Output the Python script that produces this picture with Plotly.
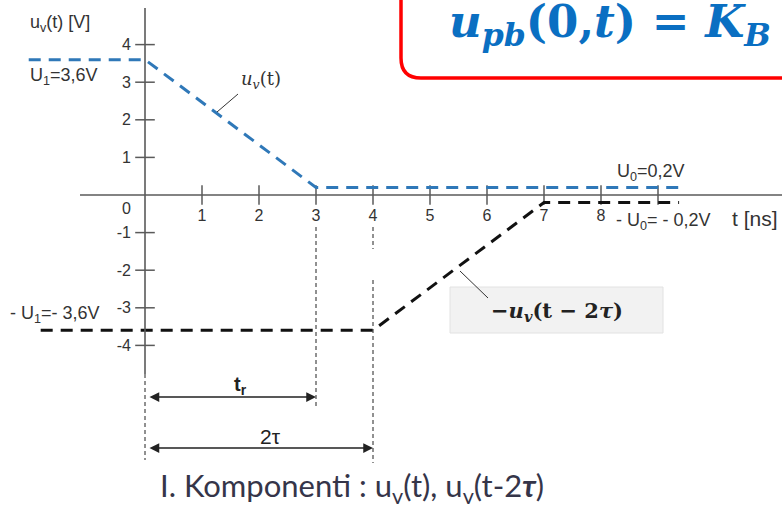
import plotly.graph_objects as go

# --- data -------------------------------------------------------------
# incident pulse u_v(t)
t_uv = [-2.04, 0, 3, 9.4]
v_uv = [3.6, 3.6, 0.2, 0.2]
# reflected, inverted and delayed pulse -u_v(t - 2*tau)
t_ref = [-1.83, 4, 7, 9.37]
v_ref = [-3.6, -3.6, -0.2, -0.2]

x_ticks = [1, 2, 3, 4, 5, 6, 7, 8, 9]
x_tick_text = ["1", "2", "3", "4", "5", "6", "7", "8", ""]
y_ticks = [-4, -3, -2, -1, 1, 2, 3, 4]
y_tick_text = ["-4", "-3", "-2", "-1", "1", "2", "3", "4"]

t_rise = 3.0      # t_r
t_delay = 4.0     # 2*tau

# --- canvas / scale ---------------------------------------------------
W, H = 782, 508
PX_T = 57.0       # pixels per ns
PX_V = 37.6       # pixels per volt
X0, Y0 = 145, 195  # origin on the canvas
x_range = [-X0 / PX_T, (W - X0) / PX_T]
y_range = [-(H - Y0) / PX_V, Y0 / PX_V]


def tx(px):
    return (px - X0) / PX_T


def vy(py):
    return (Y0 - py) / PX_V


AX = "#5a5a5a"
TXT = "#333333"
BLUE = "#2f78b8"
SANS = "Liberation Sans, Arial, sans-serif"
SERIF = "DejaVu Serif, serif"

fig = go.Figure()

# axis lines
fig.add_shape(type="line", x0=tx(80), x1=tx(790), y0=0, y1=0,
              line=dict(color=AX, width=1.6))
fig.add_shape(type="line", x0=0, x1=0, y0=vy(8), y1=vy(374),
              line=dict(color=AX, width=1.6))

# helper dashed verticals
vdash = dict(color="#222222", width=1, dash="4px,3px")
fig.add_shape(type="line", x0=0, x1=0, y0=vy(374), y1=vy(460), line=vdash)
fig.add_shape(type="line", x0=t_rise, x1=t_rise, y0=vy(227), y1=vy(408), line=vdash)
fig.add_shape(type="line", x0=t_delay, x1=t_delay, y0=vy(227), y1=vy(249), line=vdash)
fig.add_shape(type="line", x0=t_delay, x1=t_delay, y0=vy(280), y1=vy(463), line=vdash)

# tick marks crossing the axes
fig.add_trace(go.Scatter(x=x_ticks, y=[0] * len(x_ticks), mode="markers",
                         marker=dict(symbol="line-ns", size=14,
                                     line=dict(color=AX, width=1.5)),
                         hoverinfo="skip", showlegend=False))
fig.add_trace(go.Scatter(x=[0] * len(y_ticks), y=y_ticks, mode="markers",
                         marker=dict(symbol="line-ew", size=14,
                                     line=dict(color=AX, width=1.5)),
                         hoverinfo="skip", showlegend=False))

# the two waveforms
fig.add_trace(go.Scatter(x=t_uv, y=v_uv, mode="lines",
                         line=dict(color=BLUE, width=3, dash="12px,8px"),
                         showlegend=False))
fig.add_trace(go.Scatter(x=t_ref, y=v_ref, mode="lines",
                         line=dict(color="#111111", width=3, dash="12px,8px"),
                         showlegend=False))

# leader lines to the curve labels
lead = dict(color="#333333", width=1)
fig.add_shape(type="line", x0=tx(217), y0=vy(112), x1=tx(238), y1=vy(94), line=lead)
fig.add_shape(type="line", x0=tx(460), y0=vy(271), x1=tx(488), y1=vy(298), line=lead)

# grey box behind -u_v(t-2tau)
fig.add_shape(type="rect", x0=tx(450), x1=tx(663), y0=vy(287), y1=vy(333),
              fillcolor="#f2f2f2", line=dict(color="#e2e2e2", width=1), layer="below")

# rounded red frame around the formula
r_t, r_v = 20 / PX_T, 20 / PX_V
L, B, R, T = tx(401), vy(78), tx(800), vy(-20)
path = (f"M {R},{B} L {L + r_t},{B} Q {L},{B} {L},{B + r_v} L {L},{T}")
fig.add_shape(type="path", path=path, line=dict(color="#ff0000", width=3.5))

# dimension arrows t_r and 2tau
for tend, py in [(t_rise, 397), (t_delay, 448)]:
    fig.add_annotation(x=tend, y=vy(py), ax=tx(148), ay=vy(py),
                       xref="x", yref="y", axref="x", ayref="y",
                       text="", showarrow=True, arrowhead=2, arrowsize=1.3,
                       arrowwidth=1.5, arrowcolor="#222222", arrowside="end+start",
                       standoff=0, startstandoff=0)


def label(px, py, text, size=18, font=SANS, color=TXT, anchor="center"):
    fig.add_annotation(x=tx(px), y=vy(py), text=text, showarrow=False,
                       xanchor=anchor, yanchor="middle",
                       font=dict(family=font, size=size, color=color))


label(28, 23, "u<sub>v</sub>(t) [V]", anchor="left")
label(28, 76, "U<sub>1</sub>=3,6V", anchor="left")
label(8, 314, "- U<sub>1</sub>=- 3,6V", anchor="left")
label(615, 172, "U<sub>0</sub>=0,2V", anchor="left")
label(614, 221, "- U<sub>0</sub>= - 0,2V", anchor="left")
label(730, 218, "t [ns]", size=21, anchor="left")
label(126, 208, "0", size=16)
label(240, 385, "<b>t<sub>r</sub></b>", size=20, color="#222222")
label(270, 436, "2τ", size=21, color="#222222")
label(261, 80, "<i>u</i><sub><i>v</i></sub>(t)", size=18, font=SERIF, color="#333333")
label(557, 311, "<b>−<i>u</i><sub><i>v</i></sub>(t − 2<i>τ</i>)</b>", size=21,
      font=SERIF, color="#222222")
label(447, 24, "<b><i>u</i><sub><i>pb</i></sub>(0,<i>t</i>) = <i>K</i><sub><i>B</i></sub></b>",
      size=45, font=SERIF, color="#0a6fc2", anchor="left")
label(352, 487, "I. Komponenti : u<sub>v</sub>(t), u<sub>v</sub>(t-2<b><i>τ</i></b>)",
      size=31, font="Lato, Open Sans, sans-serif", color="#353549")

fig.update_layout(
    width=W, height=H, margin=dict(l=0, r=0, t=0, b=0),
    paper_bgcolor="white", plot_bgcolor="white", showlegend=False,
    xaxis=dict(range=x_range, showgrid=False, zeroline=False, showline=False,
               tickvals=x_ticks, ticktext=x_tick_text, ticks="",
               anchor="free", position=1 - Y0 / H, side="bottom",
               ticklabelstandoff=9, automargin=False,
               tickfont=dict(family=SANS, size=16, color=TXT)),
    yaxis=dict(range=y_range, showgrid=False, zeroline=False, showline=False,
               tickvals=y_ticks, ticktext=y_tick_text, ticks="",
               anchor="free", position=X0 / W, side="left",
               ticklabelstandoff=14, automargin=False,
               tickfont=dict(family=SANS, size=16, color=TXT)),
)

fig.write_html("out.html")
